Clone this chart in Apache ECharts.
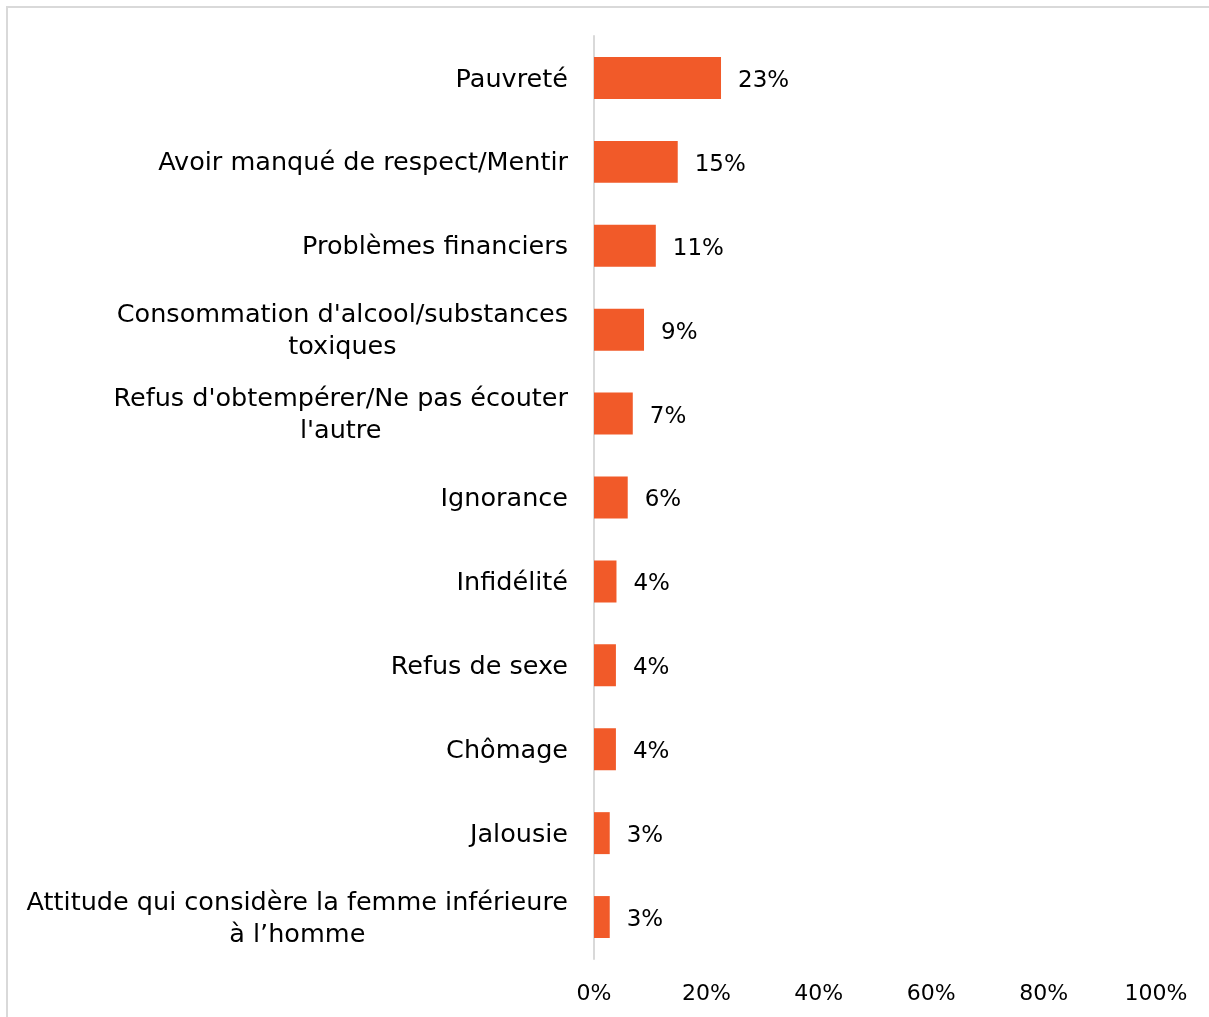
<!DOCTYPE html>
<html>
<head>
<meta charset="utf-8">
<script src="https://cdn.jsdelivr.net/npm/echarts@6/dist/echarts.min.js"></script>
<style>
html,body{margin:0;padding:0;background:#fff;}
#chart{width:1209px;height:1017px;}
</style>
</head>
<body>
<div id="chart"></div>
<script>
const categories = [
  "Pauvreté",
  "Avoir manqué de respect/Mentir",
  "Problèmes financiers",
  "Consommation d'alcool/substances\ntoxiques",
  "Refus d'obtempérer/Ne pas écouter\nl'autre",
  "Ignorance",
  "Infidélité",
  "Refus de sexe",
  "Chômage",
  "Jalousie",
  "Attitude qui considère la femme inférieure\nà l’homme"
];
const values = [22.6, 14.9, 11.0, 8.9, 6.9, 6.0, 4.0, 3.9, 3.9, 2.8, 2.8];
const xTicks = [0, 20, 40, 60, 80, 100];

const FONT = "'DejaVu Sans', sans-serif";
const chart = echarts.init(document.getElementById('chart'), null, {renderer: 'canvas'});
chart.setOption({
  animation: false,
  backgroundColor: '#ffffff',
  graphic: [{
    type: 'rect',
    shape: {x: 7, y: 7, width: 1220, height: 1030},
    style: {fill: 'none', stroke: '#d9d9d9', lineWidth: 2},
    silent: true, z: -10
  }],
  grid: {left: 594, right: 53, top: 36, bottom: 58, containLabel: false},
  xAxis: {
    type: 'value',
    min: xTicks[0], max: xTicks[xTicks.length - 1], interval: 20,
    axisLine: {show: false}, axisTick: {show: false}, splitLine: {show: false},
    axisLabel: {
      formatter: v => v + '%', color: '#000', fontSize: 22, fontFamily: FONT, margin: 24
    }
  },
  yAxis: {
    type: 'category',
    data: categories,
    inverse: true,
    axisLine: {show: true, lineStyle: {color: '#d9d9d9', width: 2}},
    axisTick: {show: false},
    axisLabel: {
      margin: 26,
      color: '#000',
      fontSize: 25.5,
      fontFamily: FONT,
      lineHeight: 32,
      padding: [4, 0, 0, 0],
      formatter: v => '{a|' + v + '}',
      rich: {a: {align: 'center', fontSize: 25.5, fontFamily: FONT, lineHeight: 32, color: '#000'}}
    }
  },
  series: [{
    type: 'bar',
    data: values,
    barWidth: '50%',
    itemStyle: {color: '#F15A29'},
    label: {
      show: true, position: 'right', distance: 17,
      offset: [0, 3],
      formatter: p => Math.round(p.value) + '%',
      color: '#000', fontSize: 23, fontFamily: FONT
    }
  }]
});
</script>
</body>
</html>
